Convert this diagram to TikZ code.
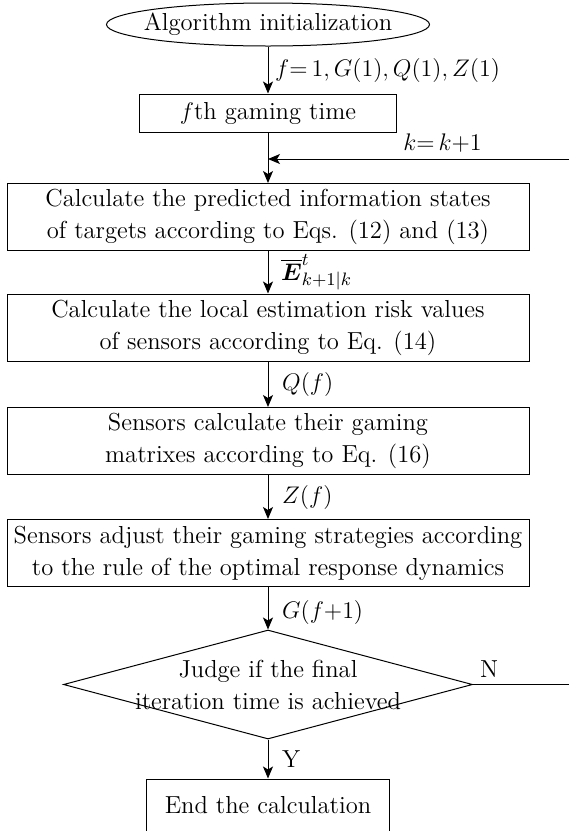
\documentclass[tikz,border=0pt]{standalone}
\usepackage{amsmath}
\usetikzlibrary{shapes.geometric,arrows.meta,positioning}

\tikzset{
  startstop/.style={draw, ellipse, minimum width=161.5pt, minimum height=21.5pt, inner xsep=-5pt, inner ysep=0pt},
  block/.style={draw, rectangle, align=center, minimum width=261pt, minimum height=33.5pt, inner sep=0pt},
  decision/.style={draw, diamond, align=center, shape aspect=3.75, minimum width=204.5pt, minimum height=54.5pt, inner sep=-6pt}
}

\begin{document}
\begin{tikzpicture}[font=\fontsize{12.3}{16}\selectfont, line width=0.5pt, >={Stealth[length=6pt, width=5pt, inset=1.5pt]}]
      \useasboundingbox (0,0) rectangle (284.5pt,-415.5pt);
      \node[startstop] (init) at (134pt,-12.25pt) {Algorithm initialization};
      \node[block, minimum width=128.5pt, minimum height=19pt] (gaming) [below of = init, node distance=44.25pt] {$f$th gaming time};
      \node[block] (predict) [below of = gaming, node distance=52pt] {Calculate the predicted information states\\of targets according to Eqs. (12) and (13)};
      \node[block] (risk) [below of = predict, node distance=55.25pt] {Calculate the local estimation risk values\\of sensors according to Eq. (14)};
      \node[block] (matrix) [below of = risk, node distance=56.75pt] {Sensors calculate their gaming\\matrixes according to Eq. (16)};
      \node[block] (adjust) [below of = matrix, node distance=56pt] {Sensors adjust their gaming strategies according\\to the rule of the optimal response dynamics};
      \node[decision] (judge) [below of = adjust, node distance=65.75pt] {Judge if the final\\iteration time is achieved};
      \node[block, minimum width=121.5pt, minimum height=26pt] (end) [below of = judge, node distance=60.25pt] {End the calculation};

      \coordinate (loopin) at (284.5pt,-79.5pt);
      \coordinate (loopout) at (judge.east -| loopin);

      \path[->] (init) edge node[right] {$f{=}\,1,G(1),Q(1),Z(1)$} (gaming);
      \path[->] (gaming) edge (predict);
      \path[->] (loopin) edge node[above, pos=0.42] {$k{=}\,k{+}1$} (loopin -| predict.north);
      \path[->] (predict) edge node[right=3pt] {$\overline{\boldsymbol{E}}^{t}_{k+1|k}$} (risk);
      \path[->] (risk) edge node[right=3.5pt] {$Q(f)$} (matrix);
      \path[->] (matrix) edge node[right=3.5pt] {$Z(f)$} (adjust);
      \path[->] (adjust) edge node[right=3.5pt, pos=0.6] {$G(f{+}1)$} (judge);
      \path[->] (judge) edge node[right=3.5pt] {Y} (end);
      \path (judge.east) edge node[above right, pos=0] {N} (loopout);
    \end{tikzpicture}
\end{document}
